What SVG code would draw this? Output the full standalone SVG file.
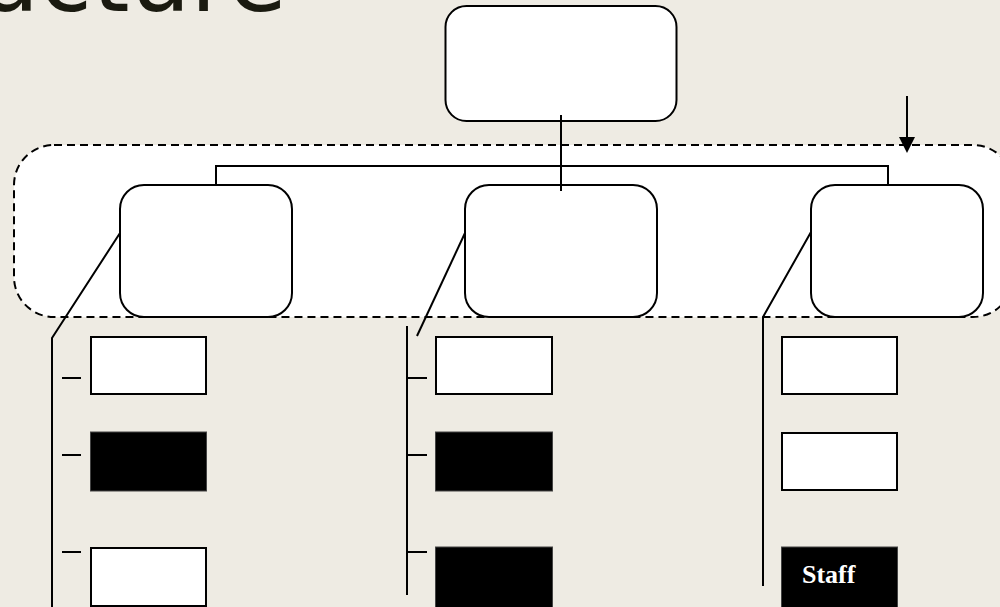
<svg xmlns="http://www.w3.org/2000/svg" width="1000" height="607" viewBox="0 0 1000 607">
<style>
.bg{fill:#eeebe3}
.title{font-family:"DejaVu Sans","Liberation Sans",sans-serif;font-size:96px;fill:#1a1a10}
.rbox{fill:#ffffff;stroke:#000;stroke-width:2}
.wbox{fill:#ffffff;stroke:#000;stroke-width:2}
.bbox{fill:#000;stroke:#444;stroke-width:1}
.ln{stroke:#000;stroke-width:2;fill:none}
.dash{fill:#ffffff;stroke:#000;stroke-width:2;stroke-dasharray:8 5}
.staff{font-family:"Liberation Serif","Times New Roman",serif;font-weight:bold;font-size:26px;fill:#ffffff}
</style>
<rect class="bg" x="0" y="0" width="1000" height="607"/>
<text class="title" x="287" y="11" text-anchor="end">Structure</text>

<g id="group-frame">
<rect class="dash" x="14" y="145" width="999" height="172" rx="40" ry="40"/>
</g>

<g id="top-node">
<rect class="rbox" x="445.5" y="6" width="231" height="115" rx="21" ry="21"/>
</g>
<g id="mid-left">
<rect class="rbox" x="120" y="185" width="172" height="132" rx="24" ry="24"/>
</g>
<g id="mid-center">
<rect class="rbox" x="465" y="185" width="192" height="132" rx="24" ry="24"/>
</g>
<g id="mid-right">
<rect class="rbox" x="811" y="185" width="172" height="132" rx="24" ry="24"/>
</g>

<g id="left-1"><rect class="wbox" x="91" y="337" width="115" height="57"/></g>
<g id="left-2"><rect class="bbox" x="90.5" y="432" width="116" height="59"/></g>
<g id="left-3"><rect class="wbox" x="91" y="548" width="115" height="58"/></g>
<g id="center-1"><rect class="wbox" x="436" y="337" width="116" height="57"/></g>
<g id="center-2"><rect class="bbox" x="435.5" y="432" width="117" height="59"/></g>
<g id="center-3"><rect class="bbox" x="435.5" y="547" width="117" height="61"/></g>
<g id="right-1"><rect class="wbox" x="782" y="337" width="115" height="57"/></g>
<g id="right-2"><rect class="wbox" x="782" y="433" width="115" height="57"/></g>
<g id="right-3"><rect class="bbox" x="781.5" y="547" width="116" height="61"/><text class="staff" x="802" y="583">Staff</text></g>

<g id="connectors">
<line class="ln" x1="561" y1="115" x2="561" y2="191"/>
<polyline class="ln" points="216,185 216,166 888,166 888,185" stroke-width="1.5"/>
<polyline class="ln" points="120,233 52,338 52,607"/>
<line class="ln" x1="62" y1="378" x2="81" y2="378"/>
<line class="ln" x1="62" y1="455" x2="81" y2="455"/>
<line class="ln" x1="62" y1="552" x2="81" y2="552"/>
<line class="ln" x1="465" y1="233" x2="417" y2="336"/>
<line class="ln" x1="407" y1="326" x2="407" y2="595"/>
<line class="ln" x1="407" y1="378" x2="427" y2="378"/>
<line class="ln" x1="407" y1="455" x2="427" y2="455"/>
<line class="ln" x1="407" y1="552" x2="427" y2="552"/>
<polyline class="ln" points="811,232 763,317 763,586"/>
<line class="ln" x1="907" y1="96" x2="907" y2="140"/>
<polygon points="899,137 915,137 907,153" fill="#000"/>
</g>
</svg>
